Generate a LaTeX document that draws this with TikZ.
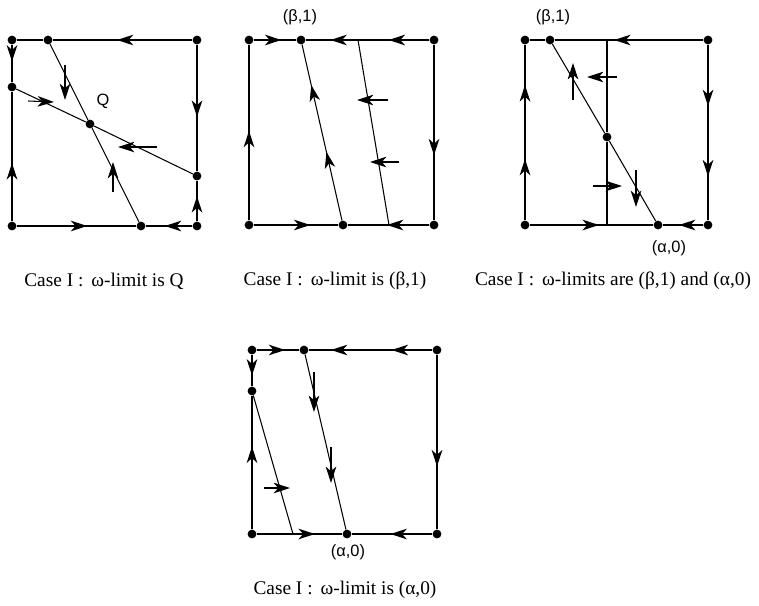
\documentclass[tikz,border=0pt]{standalone}
\usepackage{fontspec}
\setmainfont{Liberation Serif}
\newfontfamily\labelfont{Liberation Sans}
\usetikzlibrary{arrows.meta,decorations.markings}
\begin{document}
\begin{tikzpicture}[
  x=0.03cm, y=-0.03cm,
  >={Stealth[length=14pt,width=9pt,inset=4pt]},
  fixpt/.style={circle, fill=black, inner sep=0pt, minimum size=7.5pt},
  boxside/.style={line width=1.6pt},
  orbit/.style={line width=0.9pt},
  vec/.style={->, line width=0.9pt},
  tipat/.style={postaction={decorate, decoration={markings, mark=at position #1 with {\arrow{>}}}}},
  caption/.style={font=\fontsize{16.5}{19}\selectfont},
  ptlabel/.style={font=\labelfont\fontsize{14}{16}\selectfont}
]
\useasboundingbox (0,0) rectangle (759,605);
\node[fixpt] (tl1) at (12,40) {};
\node[fixpt] (tr1) at (197,40) {};
\node[fixpt] (bl1) at (12,226) {};
\node[fixpt] (br1) at (197,226) {};
\node[fixpt] (t1) at (48,40) {};
\node[fixpt] (l1) at (12,87) {};
\node[fixpt] (q1) at (90,124) {};
\node[fixpt] (r1) at (197,176) {};
\node[fixpt] (b1) at (141,226) {};
\node[ptlabel] (qlab) at (103,101) {Q};
\draw[boxside] (tl1) -- (t1);
\draw[boxside, tipat=0.54] (tr1) -- (t1);
\draw[boxside, tipat=0.45] (tl1) -- (l1);
\draw[boxside, tipat=0.45] (bl1) -- (l1);
\draw[boxside, tipat=0.57] (tr1) -- (r1);
\draw[boxside, tipat=0.62] (br1) -- (r1);
\draw[boxside, tipat=0.59] (bl1) -- (b1);
\draw[boxside, tipat=0.59] (br1) -- (b1);
\draw[orbit] (t1) -- (q1) -- (b1);
\draw[orbit] (l1) -- (q1) -- (r1);
\draw[vec] (65,65) -- (65,100);
\draw[vec] (28,101) -- (54,102);
\draw[vec] (157,147) -- (118,147);
\draw[vec] (113,192) -- (113,162);
\node[caption] (cap1) at (104,281) {Case I :\, ω-limit is Q};

\node[fixpt] (tl2) at (249,40) {};
\node[fixpt] (tr2) at (434,40) {};
\node[fixpt] (bl2) at (249,225) {};
\node[fixpt] (br2) at (434,225) {};
\node[fixpt] (t2) at (301,40) {};
\node[fixpt] (b2) at (343,225) {};
\coordinate (u2) at (358,40);
\coordinate (d2) at (389,225);
\node[ptlabel] (blab2) at (300,17) {(β,1)};
\draw[boxside, tipat=0.65] (tl2) -- (t2);
\draw[boxside, tipat=0.33, tipat=0.8] (tr2) -- (t2);
\draw[boxside, tipat=0.63] (tr2) -- (br2);
\draw[boxside, tipat=0.51] (bl2) -- (tl2);
\draw[boxside, tipat=0.67] (bl2) -- (b2);
\draw[boxside, tipat=0.52] (br2) -- (b2);
\draw[orbit, tipat=0.39, tipat=0.77] (b2) -- (t2);
\draw[orbit] (u2) -- (d2);
\draw[vec] (388,100) -- (357,100);
\draw[vec] (399,162) -- (370,162);
\node[caption] (cap2) at (335,281) {Case I :\, ω-limit is (β,1)};

\node[fixpt] (tl3) at (525,40) {};
\node[fixpt] (tr3) at (708,40) {};
\node[fixpt] (bl3) at (525,225) {};
\node[fixpt] (br3) at (708,225) {};
\node[fixpt] (t3) at (550,40) {};
\node[fixpt] (m3) at (607,137) {};
\node[fixpt] (b3) at (658,225) {};
\coordinate (u3) at (607,40);
\coordinate (d3) at (607,225);
\node[ptlabel] (blab3) at (553,17) {(β,1)};
\node[ptlabel] (alab3) at (669,248) {(α,0)};
\draw[boxside] (tl3) -- (t3);
\draw[boxside, tipat=0.6] (tr3) -- (t3);
\draw[boxside, tipat=0.35, tipat=0.75] (tr3) -- (br3);
\draw[boxside, tipat=0.35, tipat=0.77] (bl3) -- (tl3);
\draw[boxside, tipat=0.56] (bl3) -- (b3);
\draw[boxside, tipat=0.6] (br3) -- (b3);
\draw[orbit] (t3) -- (m3) -- (b3);
\draw[orbit] (u3) -- (m3) -- (d3);
\draw[vec] (573,100) -- (573,63);
\draw[vec] (617,77) -- (587,77);
\draw[vec] (593,186) -- (622,186);
\draw[vec] (636,170) -- (636,207);
\node[caption] (cap3) at (613,281) {Case I :\, ω-limits are (β,1) and (α,0)};

\node[fixpt] (tl4) at (252,350) {};
\node[fixpt] (tr4) at (437,350) {};
\node[fixpt] (bl4) at (252,534) {};
\node[fixpt] (br4) at (437,534) {};
\node[fixpt] (t4) at (304,350) {};
\node[fixpt] (l4) at (252,391) {};
\node[fixpt] (b4) at (347,534) {};
\coordinate (d4) at (293,534);
\node[ptlabel] (alab4) at (348,552) {(α,0)};
\draw[boxside, tipat=0.67] (tl4) -- (t4);
\draw[boxside, tipat=0.33, tipat=0.82] (tr4) -- (t4);
\draw[boxside, tipat=0.66] (tl4) -- (l4);
\draw[boxside, tipat=0.62] (bl4) -- (l4);
\draw[boxside, tipat=0.64] (tr4) -- (br4);
\draw[boxside, tipat=0.68] (bl4) -- (b4);
\draw[boxside, tipat=0.52] (br4) -- (b4);
\draw[orbit] (t4) -- (b4);
\draw[orbit] (l4) -- (d4);
\draw[vec] (314,372) -- (314,412);
\draw[vec] (331,447) -- (331,483);
\draw[vec] (264,488) -- (290,488);
\node[caption] (cap4) at (345,590) {Case I :\, ω-limit is (α,0)};
\end{tikzpicture}
\end{document}
